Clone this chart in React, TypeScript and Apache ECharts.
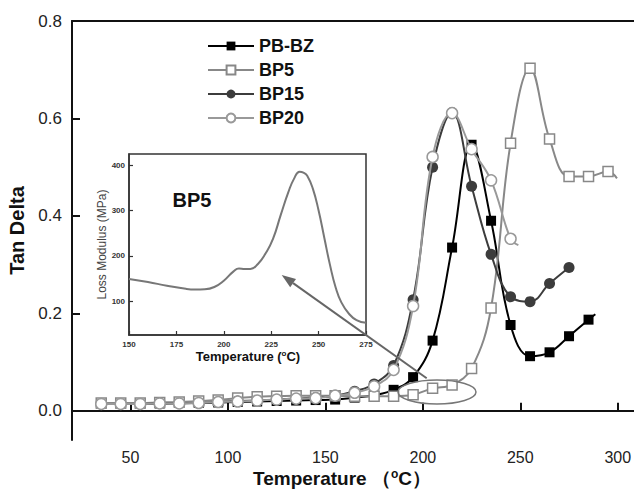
import React, { useEffect, useRef } from "react";
import * as echarts from "echarts";

// ---------- data ----------
const seriesNames = ["PB-BZ", "BP5", "BP15", "BP20"];

const tempPBBZ = [35, 45, 55, 65, 75, 85, 95, 105, 115, 125, 135, 145, 155, 165, 175, 185, 195, 205, 215, 225, 235, 245, 255, 265, 275, 285];
const tanPBBZ = [0.015, 0.015, 0.015, 0.015, 0.016, 0.016, 0.017, 0.018, 0.019, 0.02, 0.021, 0.022, 0.023, 0.027, 0.032, 0.043, 0.069, 0.144, 0.335, 0.546, 0.39, 0.176, 0.112, 0.12, 0.153, 0.187];
const tailPBBZ = [288.5, 0.198];

const tempBP5 = [35, 45, 55, 65, 75, 85, 95, 105, 115, 125, 135, 145, 155, 165, 175, 185, 195, 205, 215, 225, 235, 245, 255, 265, 275, 285, 295];
const tanBP5 = [0.016, 0.016, 0.016, 0.017, 0.018, 0.02, 0.022, 0.026, 0.029, 0.03, 0.031, 0.031, 0.031, 0.03, 0.03, 0.03, 0.033, 0.046, 0.053, 0.087, 0.211, 0.549, 0.703, 0.558, 0.481, 0.481, 0.491];
const tailBP5 = [299.6, 0.477];

const tempBP15 = [35, 45, 55, 65, 75, 85, 95, 105, 115, 125, 135, 145, 155, 165, 175, 185, 195, 205, 215, 225, 235, 245, 255, 265, 275];
const tanBP15 = [0.014, 0.014, 0.014, 0.015, 0.015, 0.016, 0.018, 0.02, 0.021, 0.023, 0.025, 0.027, 0.031, 0.04, 0.055, 0.093, 0.228, 0.5, 0.612, 0.461, 0.321, 0.234, 0.224, 0.261, 0.294];

const tempBP20 = [35, 45, 55, 65, 75, 85, 95, 105, 115, 125, 135, 145, 155, 165, 175, 185, 195, 205, 215, 225, 235, 245];
const tanBP20 = [0.014, 0.014, 0.014, 0.015, 0.015, 0.016, 0.018, 0.019, 0.021, 0.023, 0.025, 0.026, 0.031, 0.037, 0.05, 0.084, 0.215, 0.521, 0.611, 0.537, 0.473, 0.353];
const tailBP20 = [249, 0.34];

// inset: loss modulus of BP5
const insetTemp = [150, 160, 170, 180, 185, 190, 195, 200, 205, 208, 211, 214, 218, 222, 226, 230, 234, 237, 240, 242, 244, 247, 250, 253, 256, 259, 262, 266, 270, 275];
const insetLoss = [149, 142, 134, 127, 125.5, 126, 131, 145, 165, 172, 171, 171, 182, 205, 238, 290, 340, 370, 386, 384, 377, 348, 300, 240, 180, 130, 97, 72, 58, 52];

const xTicks = [50, 100, 150, 200, 250, 300];
const yTicks = [0, 0.2, 0.4, 0.6, 0.8];
const insetXTicks = [150, 175, 200, 225, 250, 275];
const insetYTicks = [100, 200, 300, 400];

const FONT = "'Liberation Sans', Arial, sans-serif";

function pairs(t: number[], v: number[], tail?: number[]) {
  const d: any[] = t.map((x, i) => [x, v[i]]);
  if (tail) d.push({ value: tail, symbol: "none" });
  return d;
}

export default function App() {
  const ref = useRef<HTMLDivElement>(null);
  useEffect(() => {
    if (!ref.current) return;
    const chart = echarts.init(ref.current, undefined, { renderer: "svg" });

    // arrow geometry (annotation)
    const tail = [426.7, 378.3];
    const tip = [281.7, 275];
    const dx = tip[0] - tail[0], dy = tip[1] - tail[1];
    const len = Math.sqrt(dx * dx + dy * dy);
    const ux = dx / len, uy = dy / len;
    const hl = 14, hw = 5;
    const bx = tip[0] - ux * hl, by = tip[1] - uy * hl;
    const px = -uy * hw, py = ux * hw;

    const mainAxisLine = { show: true, lineStyle: { color: "#111", width: 2 } };
    const insetAxisLine = { show: true, lineStyle: { color: "#333", width: 1.5 } };

    chart.setOption({
      animation: false,
      backgroundColor: "#fff",
      textStyle: { fontFamily: FONT },
      grid: [
        { left: 72, top: 21, right: -13, bottom: 49, show: false, outerBoundsMode: "none" },
        { left: 129, top: 154, width: 237, height: 181, show: true, backgroundColor: "#fff", borderColor: "#333", borderWidth: 1.5, outerBoundsMode: "none" },
      ],
      legend: {
        data: seriesNames,
        orient: "vertical",
        left: 202,
        top: 32,
        itemWidth: 46,
        itemHeight: 11,
        itemGap: 6,
        textStyle: { fontSize: 18, fontWeight: "bold", color: "#111", fontFamily: FONT },
      },
      xAxis: [
        {
          gridIndex: 0, type: "value", min: 20, max: 315,
          axisLine: mainAxisLine,
          axisTick: { show: true, inside: true, length: 8, lineStyle: { color: "#111", width: 2 }, customValues: xTicks },
          axisLabel: { customValues: xTicks, fontSize: 16, color: "#222", margin: 9, fontFamily: FONT },
          splitLine: { show: false },
        },
        {
          gridIndex: 0, type: "value", min: 20, max: 315, position: "top",
          axisLine: mainAxisLine,
          axisTick: { show: false },
          axisLabel: { show: false },
          splitLine: { show: false },
        },
        {
          gridIndex: 1, type: "value", min: 150, max: 275,
          axisLine: insetAxisLine,
          axisTick: { show: true, inside: true, length: 4, lineStyle: { color: "#333", width: 1.2 }, customValues: insetXTicks },
          axisLabel: { customValues: insetXTicks, fontSize: 8, fontWeight: "bold", color: "#333", margin: 5, fontFamily: FONT },
          splitLine: { show: false },
        },
      ],
      yAxis: [
        {
          gridIndex: 0, type: "value", min: -0.06, max: 0.8,
          name: "Tan Delta", nameLocation: "middle", nameGap: 43, nameRotate: 90,
          nameTextStyle: { fontSize: 20, fontWeight: "bold", color: "#111", fontFamily: FONT },
          axisLine: mainAxisLine,
          axisTick: { show: true, inside: true, length: 8, lineStyle: { color: "#111", width: 2 }, customValues: yTicks },
          axisLabel: { customValues: yTicks, fontSize: 17, color: "#222", margin: 10, fontFamily: FONT, formatter: (v: number) => v.toFixed(1) },
          splitLine: { show: false },
        },
        {
          gridIndex: 1, type: "value", min: 25, max: 425,
          name: "Loss Modulus (MPa)", nameLocation: "middle", nameGap: 18, nameRotate: 90,
          nameTextStyle: { fontSize: 12, color: "#444", fontFamily: FONT },
          axisLine: insetAxisLine,
          axisTick: { show: true, inside: true, length: 4, lineStyle: { color: "#333", width: 1.2 }, customValues: insetYTicks },
          axisLabel: { customValues: insetYTicks, fontSize: 8, fontWeight: "bold", color: "#333", margin: 4, fontFamily: FONT },
          splitLine: { show: false },
        },
      ],
      series: [
        {
          name: "PB-BZ", type: "line", xAxisIndex: 0, yAxisIndex: 0, smooth: 0.4,
          data: pairs(tempPBBZ, tanPBBZ, tailPBBZ),
          symbol: "rect", symbolSize: 10,
          itemStyle: { color: "#000" },
          lineStyle: { color: "#000", width: 2 },
          z: 3,
        },
        {
          name: "BP5", type: "line", xAxisIndex: 0, yAxisIndex: 0, smooth: 0.4,
          data: pairs(tempBP5, tanBP5, tailBP5),
          symbol: "rect", symbolSize: 10,
          itemStyle: { color: "#fff", borderColor: "#888", borderWidth: 1.5 },
          lineStyle: { color: "#888", width: 2 },
          z: 4,
        },
        {
          name: "BP15", type: "line", xAxisIndex: 0, yAxisIndex: 0, smooth: 0.4,
          data: pairs(tempBP15, tanBP15),
          symbol: "circle", symbolSize: 11,
          itemStyle: { color: "#3c3c3c" },
          lineStyle: { color: "#3c3c3c", width: 2 },
          z: 5,
        },
        {
          name: "BP20", type: "line", xAxisIndex: 0, yAxisIndex: 0, smooth: 0.4,
          data: pairs(tempBP20, tanBP20, tailBP20),
          symbol: "circle", symbolSize: 11,
          itemStyle: { color: "#fff", borderColor: "#999", borderWidth: 1.5 },
          lineStyle: { color: "#999", width: 2 },
          z: 6,
        },
        {
          name: "BP5 loss modulus", type: "line", xAxisIndex: 2, yAxisIndex: 1, smooth: true,
          data: pairs(insetTemp, insetLoss),
          showSymbol: false, symbol: "none",
          lineStyle: { color: "#777", width: 2 },
          z: 3,
        },
      ],
      graphic: [
        {
          type: "ellipse", z: 20,
          shape: { cx: 437, cy: 392, rx: 39, ry: 12 },
          style: { fill: "none", stroke: "#777", lineWidth: 1.5 },
        },
        {
          type: "line", z: 20,
          shape: { x1: tail[0], y1: tail[1], x2: bx, y2: by },
          style: { stroke: "#666", lineWidth: 2 },
        },
        {
          type: "polygon", z: 20,
          shape: { points: [[tip[0], tip[1]], [bx + px, by + py], [bx - px, by - py]] },
          style: { fill: "#666" },
        },
        {
          type: "text", z: 20, x: 192, y: 200,
          style: { text: "BP5", fontSize: 20, fontWeight: "bold", fill: "#111", fontFamily: FONT, align: "center", verticalAlign: "middle" },
        },
        {
          type: "text", z: 20, x: 342, y: 478,
          style: {
            text: "{a|Temperature （}{s|o}{a|C）}",
            align: "center", verticalAlign: "middle",
            rich: {
              a: { fontSize: 19, fontWeight: "bold", fill: "#111", fontFamily: FONT },
              s: { fontSize: 12, fontWeight: "bold", fill: "#111", fontFamily: FONT, padding: [0, 0, 8, 0] },
            },
          },
        },
        {
          type: "text", z: 20, x: 248, y: 356,
          style: {
            text: "{a|Temperature (}{s|o}{a|C)}",
            align: "center", verticalAlign: "middle",
            rich: {
              a: { fontSize: 13, fontWeight: "bold", fill: "#111", fontFamily: FONT },
              s: { fontSize: 8, fontWeight: "bold", fill: "#111", fontFamily: FONT, padding: [0, 0, 6, 0] },
            },
          },
        },
      ],
    });
    return () => chart.dispose();
  }, []);
  return <div ref={ref} style={{ width: 634, height: 489, position: "absolute", left: 0, top: 0 }} />;
}
